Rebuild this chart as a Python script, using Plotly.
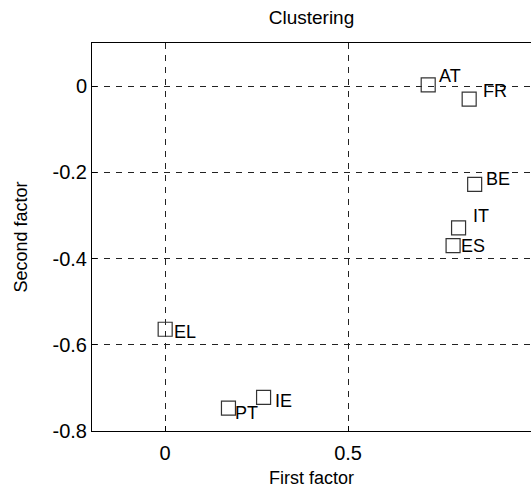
import plotly.graph_objects as go

countries = ["AT", "FR", "BE", "IT", "ES", "EL", "PT", "IE"]
first_factor = [0.719, 0.831, 0.846, 0.802, 0.787, 0.0, 0.173, 0.269]
second_factor = [0.003, -0.030, -0.228, -0.329, -0.370, -0.564, -0.747, -0.722]

x_ticks = [0, 0.5, 1]
x_ticklabels = ["0", "0.5", "1"]
y_ticks = [0, -0.2, -0.4, -0.6, -0.8]
y_ticklabels = ["0", "-0.2", "-0.4", "-0.6", "-0.8"]

# label pixel offsets (style, not data)
label_shift = [(9, 9), (12, 8), (9, 5), (12, 12), (6, 0), (7, -3), (5, -5), (9, -4)]

FONT = "Liberation Sans, Arial, sans-serif"

fig = go.Figure()
fig.add_trace(go.Scatter(
    x=first_factor, y=second_factor, mode="markers",
    marker=dict(symbol="square-open", size=14, color="#333333", line=dict(width=1.2, color="#333333")),
    showlegend=False, hoverinfo="skip",
))

for c, xv, yv, (dx, dy) in zip(countries, first_factor, second_factor, label_shift):
    fig.add_annotation(x=xv, y=yv, text=c, showarrow=False, xanchor="left", yanchor="middle",
                       xshift=dx, yshift=dy, font=dict(family=FONT, size=18, color="#000"))

fig.update_layout(
    width=532, height=488,
    margin=dict(l=92, r=1, t=43, b=57),
    paper_bgcolor="white", plot_bgcolor="white",
    title=dict(text="Clustering", x=(92 + 531) / 2 / 532, xanchor="center",
               y=1 - 17 / 488, yanchor="middle", yref="container",
               font=dict(family=FONT, size=19, color="#000")),
    font=dict(family=FONT, color="#000"),
)
fig.update_xaxes(
    range=[-0.2, 1.0], tickvals=x_ticks, ticktext=x_ticklabels,
    showline=True, linecolor="#000", linewidth=1, mirror=True,
    ticks="inside", ticklen=5, tickcolor="#000",
    showgrid=True, gridcolor="#222", gridwidth=1, griddash="6px,6px",
    zeroline=False, tickfont=dict(size=20), ticklabelstandoff=4,
    title=dict(text="First factor", font=dict(size=18), standoff=10),
)
fig.update_yaxes(
    range=[-0.8, 0.1], tickvals=y_ticks, ticktext=y_ticklabels,
    showline=True, linecolor="#000", linewidth=1, mirror=False,
    ticks="inside", ticklen=5, tickcolor="#000",
    showgrid=True, gridcolor="#222", gridwidth=1, griddash="6px,6px",
    zeroline=False, tickfont=dict(size=20),
    title=dict(text="Second factor", font=dict(size=18), standoff=20),
)

fig.write_html("out.html")
